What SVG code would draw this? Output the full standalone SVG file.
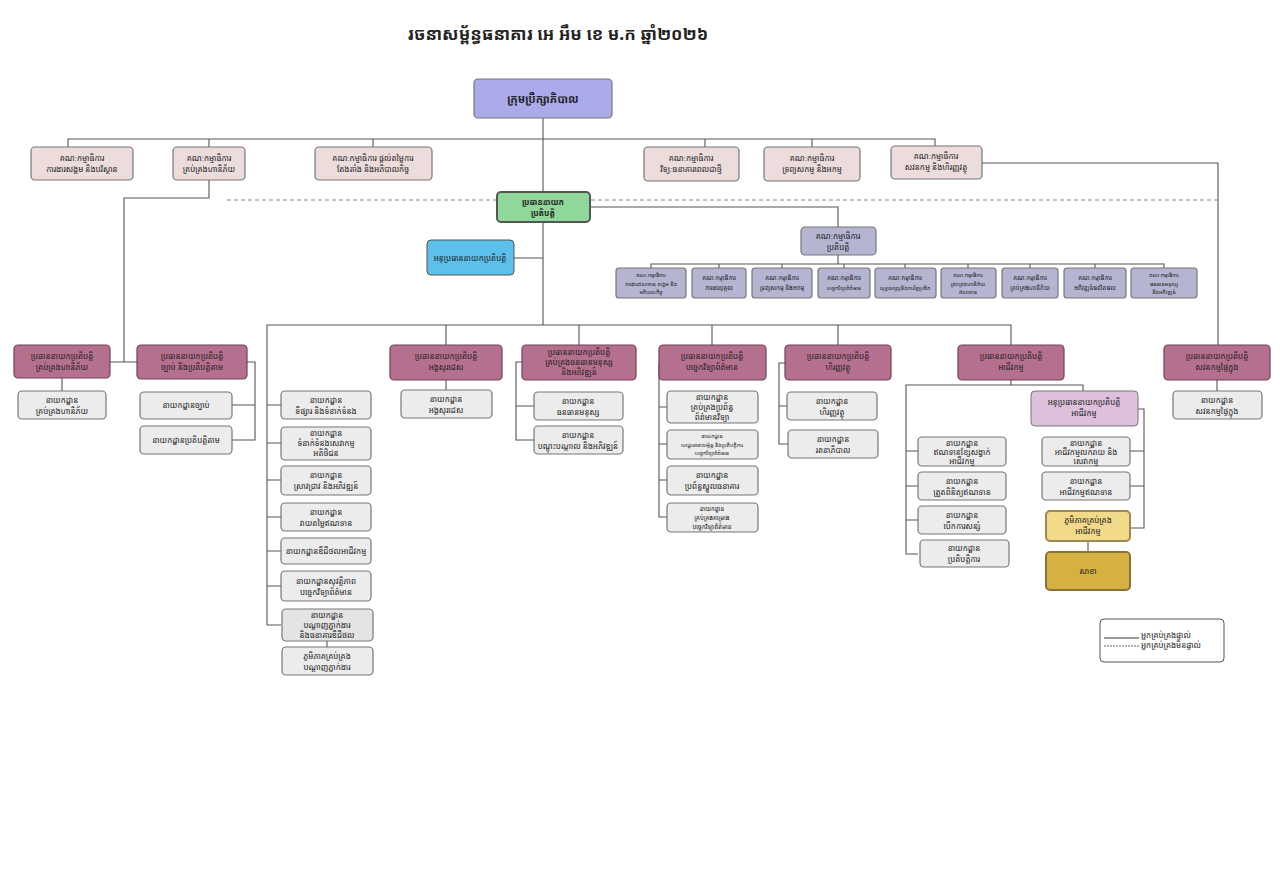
<svg xmlns="http://www.w3.org/2000/svg" width="1280" height="896" viewBox="0 0 1280 896">
<style>
text{font-family:"Noto Sans Khmer","Khmer OS","Noto Sans",sans-serif;font-size:8px;fill:#222;text-anchor:middle}
.t{font-size:17px;font-weight:bold}
.b{font-size:11px;font-weight:bold}
.s{font-size:6px}
.xs{font-size:5.3px}
.box{stroke:#777;stroke-width:1.2}
.com{fill:#ecdcdc}
.sc{fill:#b5b5d2}
.dep{fill:#ececec}
.chief{fill:#b6708f;stroke:#6e4258;stroke-width:1.2}
.c{fill:none;stroke:#555;stroke-width:1.1}
.d{fill:none;stroke:#888;stroke-width:1.1;stroke-dasharray:4 3}
</style>
<rect width="1280" height="896" fill="#fff"/>
<text class="t" x="558" y="40">រចនាសម្ព័ន្ធធនាគារ អេ អឹម ខេ ម.ក ឆ្នាំ២០២៦</text>
<g id="connectors">
<path class="c" d="M543 118V325M68 147V139H935V147M209 139V147M373 139V147M705 139V147M812 139V147"/>
<path class="c" d="M982 163H1218V345"/>
<path class="c" d="M209 180V198H124V362M110 362H137"/>
<path class="d" d="M227 200H1218"/>
<path class="c" d="M514 258H543M590 207H838V227M838 255V264M651 268V264H1164V268M719 264V268M782 264V268M844 264V268M905 264V268M968 264V268M1030 264V268M1095 264V268"/>
<path class="c" d="M267 625V325H1011V345M446 325V345M579 325V345M712 325V345M838 325V345"/>
<path class="c" d="M267 405H281M267 443H281M267 480H281M267 517H281M267 551H281M267 586H281M267 625H281M327 641V647"/>
<path class="c" d="M62 378V391M247 362H255V440H232M255 405H232M446 380V390"/>
<path class="c" d="M522 362H516V440H534M516 406H534M659 363V517H667M659 407H667M659 444H667M659 480H667M785 363H779V444H788M779 406H787"/>
<path class="c" d="M1011 380V385H906V554H918M906 451H918M906 486H918M906 520H918M1011 385H1083V391M1138 409H1144V528H1130M1144 451H1130M1144 486H1130M1088 541V552M1217 380V391"/>
</g>
<g id="board"><rect class="box" x="474" y="79" width="138" height="39" rx="4" fill="#abaaea" stroke="#555" stroke-width="2.5"/><text class="b" x="543" y="103">ក្រុមប្រឹក្សាភិបាល</text></g>
<g id="com1"><rect class="box com" x="31" y="147" width="102" height="33" rx="4"/><text x="82" y="161">គណៈកម្មាធិការ</text><text x="82" y="172">ការងារសង្គម និងបរិស្ថាន</text></g>
<g id="com2"><rect class="box com" x="173" y="147" width="72" height="33" rx="4"/><text x="209" y="161">គណៈកម្មាធិការ</text><text x="209" y="172">គ្រប់គ្រងហានិភ័យ</text></g>
<g id="com3"><rect class="box com" x="315" y="147" width="117" height="33" rx="4"/><text x="373" y="161">គណៈកម្មាធិការ ផ្តល់តម្លៃការ</text><text x="373" y="172">តែងតាំង និងអភិបាលកិច្ច</text></g>
<g id="com4"><rect class="box com" x="644" y="147" width="95" height="34" rx="4"/><text x="691" y="161">គណៈកម្មាធិការ</text><text x="691" y="172">វិទ្យៈធនាគារពេលជាថ្មី</text></g>
<g id="com5"><rect class="box com" x="764" y="147" width="96" height="34" rx="4"/><text x="812" y="161">គណៈកម្មាធិការ</text><text x="812" y="172">ទ្រព្យសកម្ម និងអកម្ម</text></g>
<g id="com6"><rect class="box com" x="891" y="146" width="91" height="33" rx="4"/><text x="936" y="159">គណៈកម្មាធិការ</text><text x="936" y="170">សវនកម្ម និងហិរញ្ញវត្ថុ</text></g>
<g id="ceo"><rect x="497" y="192" width="93" height="30" rx="4" fill="#8fd89a" stroke="#555" stroke-width="2"/><text x="543" y="205" font-weight="bold" font-size="9">ប្រធាននាយក</text><text x="543" y="216" font-weight="bold" font-size="9">ប្រតិបត្តិ</text></g>
<g id="dceo"><rect x="427" y="240" width="87" height="35" rx="4" fill="#5bc0eb" stroke="#555"/><text x="470" y="261" font-size="8.5">អនុប្រធាននាយកប្រតិបត្តិ</text></g>
<g id="exco"><rect class="box sc" x="801" y="227" width="75" height="28" rx="4"/><text x="838" y="239">គណៈកម្មាធិការ</text><text x="838" y="250">ប្រតិបត្តិ</text></g>
<g id="sc1"><rect class="box sc" x="616" y="268" width="70" height="30" rx="3"/><text class="xs" x="651" y="277">គណៈកម្មាធិការ</text><text class="xs" x="651" y="285.5">ការងារឥណទាន សង្គម និង</text><text class="xs" x="651" y="294">អភិបាលកិច្ច</text></g>
<g id="sc2"><rect class="box sc" x="692" y="268" width="54" height="30" rx="3"/><text class="s" x="719" y="280">គណៈកម្មាធិការ</text><text class="s" x="719" y="290">ការងារបុគ្គល</text></g>
<g id="sc3"><rect class="box sc" x="752" y="268" width="60" height="30" rx="3"/><text class="s" x="782" y="280">គណៈកម្មាធិការ</text><text class="s" x="782" y="290">ទ្រព្យសកម្ម និងអកម្ម</text></g>
<g id="sc4"><rect class="box sc" x="818" y="268" width="52" height="30" rx="3"/><text class="s" x="844" y="280">គណៈកម្មាធិការ</text><text class="xs" x="844" y="290">បច្ចេកវិទ្យាព័ត៌មាន</text></g>
<g id="sc5"><rect class="box sc" x="875" y="268" width="61" height="30" rx="3"/><text class="s" x="905" y="280">គណៈកម្មាធិការ</text><text class="xs" x="905" y="290">យុទ្ធសាស្ត្រនិងការច្នៃប្រឌិត</text></g>
<g id="sc6"><rect class="box sc" x="941" y="268" width="55" height="30" rx="3"/><text class="xs" x="968" y="277">គណៈកម្មាធិការ</text><text class="xs" x="968" y="285.5">គ្រប់គ្រងហានិភ័យ</text><text class="xs" x="968" y="294">ឥណទាន</text></g>
<g id="sc7"><rect class="box sc" x="1002" y="268" width="56" height="30" rx="3"/><text class="s" x="1030" y="280">គណៈកម្មាធិការ</text><text class="s" x="1030" y="290">គ្រប់គ្រងហានិភ័យ</text></g>
<g id="sc8"><rect class="box sc" x="1064" y="268" width="62" height="30" rx="3"/><text class="s" x="1095" y="280">គណៈកម្មាធិការ</text><text class="s" x="1095" y="290">អភិវឌ្ឍន៍ផលិតផល</text></g>
<g id="sc9"><rect class="box sc" x="1131" y="268" width="66" height="30" rx="3"/><text class="xs" x="1164" y="277">គណៈកម្មាធិការ</text><text class="xs" x="1164" y="285.5">ធនធានមនុស្ស</text><text class="xs" x="1164" y="294">និងអភិវឌ្ឍន៍</text></g>
<g id="cro"><rect class="chief" x="14" y="345" width="96" height="33" rx="4"/><text x="62" y="359">ប្រធាននាយកប្រតិបត្តិ</text><text x="62" y="370">គ្រប់គ្រងហានិភ័យ</text></g>
<g id="legal"><rect class="chief" x="137" y="345" width="110" height="34" rx="4"/><text x="192" y="359">ប្រធាននាយកប្រតិបត្តិ</text><text x="192" y="370">ច្បាប់ និងប្រតិបត្តិតាម</text></g>
<g id="admin"><rect class="chief" x="390" y="345" width="112" height="35" rx="4"/><text x="446" y="359">ប្រធាននាយកប្រតិបត្តិ</text><text x="446" y="370">អង្គសុរដេស</text></g>
<g id="hr"><rect class="chief" x="522" y="345" width="114" height="35" rx="4"/><text x="579" y="355">ប្រធាននាយកប្រតិបត្តិ</text><text x="579" y="365">គ្រប់គ្រងធនធានមនុស្ស</text><text x="579" y="375">និងអភិវឌ្ឍន៍</text></g>
<g id="it"><rect class="chief" x="659" y="345" width="107" height="35" rx="4"/><text x="712" y="359">ប្រធាននាយកប្រតិបត្តិ</text><text x="712" y="370">បច្ចេកវិទ្យាព័ត៌មាន</text></g>
<g id="fin"><rect class="chief" x="785" y="345" width="106" height="35" rx="4"/><text x="838" y="359">ប្រធាននាយកប្រតិបត្តិ</text><text x="838" y="370">ហិរញ្ញវត្ថុ</text></g>
<g id="biz"><rect class="chief" x="958" y="345" width="106" height="35" rx="4"/><text x="1011" y="359">ប្រធាននាយកប្រតិបត្តិ</text><text x="1011" y="370">អាជីវកម្ម</text></g>
<g id="audit"><rect class="chief" x="1164" y="345" width="106" height="35" rx="4"/><text x="1217" y="359">ប្រធាននាយកប្រតិបត្តិ</text><text x="1217" y="370">សវនកម្មផ្ទៃក្នុង</text></g>
<g id="d-risk"><rect class="box dep" x="18" y="391" width="88" height="28" rx="4"/><text x="62" y="403">នាយកដ្ឋាន</text><text x="62" y="414">គ្រប់គ្រងហានិភ័យ</text></g>
<g id="d-legal"><rect class="box dep" x="140" y="392" width="92" height="27" rx="4"/><text x="186" y="408">នាយកដ្ឋានច្បាប់</text></g>
<g id="d-comp"><rect class="box dep" x="140" y="426" width="92" height="28" rx="4"/><text x="186" y="443">នាយកដ្ឋានប្រតិបត្តិតាម</text></g>
<g id="d-mkt"><rect class="box dep" x="281" y="391" width="90" height="28" rx="4"/><text x="326" y="403">នាយកដ្ឋាន</text><text x="326" y="414">ទីផ្សារ និងទំនាក់ទំនង</text></g>
<g id="d-cx"><rect class="box dep" x="281" y="427" width="90" height="33" rx="4"/><text x="326" y="436">នាយកដ្ឋាន</text><text x="326" y="446">ទំនាក់ទំនងសេវាកម្ម</text><text x="326" y="456">អតិថិជន</text></g>
<g id="d-rd"><rect class="box dep" x="281" y="466" width="90" height="29" rx="4"/><text x="326" y="478">នាយកដ្ឋាន</text><text x="326" y="489">ស្រាវជ្រាវ និងអភិវឌ្ឍន៍</text></g>
<g id="d-cv"><rect class="box dep" x="281" y="503" width="90" height="28" rx="4"/><text x="326" y="515">នាយកដ្ឋាន</text><text x="326" y="526">វាយតម្លៃឥណទាន</text></g>
<g id="d-db"><rect class="box dep" x="281" y="538" width="90" height="26" rx="4"/><text x="326" y="554">នាយកដ្ឋានឌីជីថលអាជីវកម្ម</text></g>
<g id="d-sec"><rect class="box dep" x="281" y="571" width="90" height="30" rx="4"/><text x="326" y="584">នាយកដ្ឋានសុវត្ថិភាព</text><text x="326" y="595">បច្ចេកវិទ្យាព័ត៌មាន</text></g>
<g id="d-agent"><rect class="box" fill="#e4e4e4" x="282" y="609" width="91" height="32" rx="4"/><text x="327" y="618">នាយកដ្ឋាន</text><text x="327" y="628">បណ្តាញភ្នាក់ងារ</text><text x="327" y="638">និងធនាគារឌីជីថល</text></g>
<g id="z-agent"><rect class="box dep" x="282" y="647" width="91" height="28" rx="4"/><text x="327" y="659">ភូមិភាគគ្រប់គ្រង</text><text x="327" y="670">បណ្តាញភ្នាក់ងារ</text></g>
<g id="d-admin"><rect class="box dep" x="401" y="390" width="91" height="28" rx="4"/><text x="446" y="402">នាយកដ្ឋាន</text><text x="446" y="413">អង្គសុរដេស</text></g>
<g id="d-hr"><rect class="box dep" x="534" y="392" width="89" height="28" rx="4"/><text x="578" y="404">នាយកដ្ឋាន</text><text x="578" y="415">ធនធានមនុស្ស</text></g>
<g id="d-train"><rect class="box dep" x="534" y="426" width="89" height="28" rx="4"/><text x="578" y="438">នាយកដ្ឋាន</text><text x="578" y="449">បណ្តុះបណ្តាល និងអភិវឌ្ឍន៍</text></g>
<g id="d-is"><rect class="box dep" x="667" y="391" width="91" height="32" rx="4"/><text x="712" y="400">នាយកដ្ឋាន</text><text x="712" y="410">គ្រប់គ្រងប្រព័ន្ធ</text><text x="712" y="420">ព័ត៌មានវិទ្យា</text></g>
<g id="d-infra"><rect class="box dep" x="667" y="430" width="91" height="29" rx="4"/><text class="xs" x="712" y="438">នាយកដ្ឋាន</text><text class="xs" x="712" y="446.5">ហេដ្ឋារចនាសម្ព័ន្ធ និងប្រតិបត្តិការ</text><text class="xs" x="712" y="455">បច្ចេកវិទ្យាព័ត៌មាន</text></g>
<g id="d-core"><rect class="box dep" x="667" y="466" width="91" height="29" rx="4"/><text x="712" y="478">នាយកដ្ឋាន</text><text x="712" y="489">ប្រព័ន្ធស្នូលធនាគារ</text></g>
<g id="d-pm"><rect class="box dep" x="667" y="503" width="91" height="29" rx="4"/><text class="s" x="712" y="511">នាយកដ្ឋាន</text><text class="s" x="712" y="520">គ្រប់គ្រងគម្រោង</text><text class="s" x="712" y="529">បច្ចេកវិទ្យាព័ត៌មាន</text></g>
<g id="d-fin"><rect class="box dep" x="787" y="392" width="90" height="28" rx="4"/><text x="832" y="404">នាយកដ្ឋាន</text><text x="832" y="415">ហិរញ្ញវត្ថុ</text></g>
<g id="d-tre"><rect class="box dep" x="788" y="430" width="90" height="28" rx="4"/><text x="833" y="442">នាយកដ្ឋាន</text><text x="833" y="453">រតនាភិបាល</text></g>
<g id="d-chain"><rect class="box dep" x="918" y="437" width="88" height="29" rx="4"/><text x="962" y="446">នាយកដ្ឋាន</text><text x="962" y="455">ឥណទានខ្សែសង្វាក់</text><text x="962" y="464">អាជីវកម្ម</text></g>
<g id="d-cm"><rect class="box dep" x="918" y="472" width="88" height="28" rx="4"/><text x="962" y="484">នាយកដ្ឋាន</text><text x="962" y="495">ត្រួតពិនិត្យឥណទាន</text></g>
<g id="d-sav"><rect class="box dep" x="918" y="506" width="88" height="28" rx="4"/><text x="962" y="518">នាយកដ្ឋាន</text><text x="962" y="529">បើកការសន្សំ</text></g>
<g id="d-ops"><rect class="box dep" x="920" y="540" width="89" height="27" rx="4"/><text x="964" y="551">នាយកដ្ឋាន</text><text x="964" y="562">ប្រតិបត្តិការ</text></g>
<g id="dbiz"><rect x="1031" y="391" width="107" height="35" rx="4" fill="#dcc0dc" stroke="#777"/><text x="1084" y="405">អនុប្រធាននាយកប្រតិបត្តិ</text><text x="1084" y="416">អាជីវកម្ម</text></g>
<g id="d-retail"><rect class="box dep" x="1042" y="437" width="88" height="29" rx="4"/><text x="1086" y="446">នាយកដ្ឋាន</text><text x="1086" y="455">អាជីវកម្មលក់រាយ និង</text><text x="1086" y="464">សេវាកម្ម</text></g>
<g id="d-credit"><rect class="box dep" x="1042" y="472" width="88" height="28" rx="4"/><text x="1086" y="484">នាយកដ្ឋាន</text><text x="1086" y="495">អាជីវកម្មឥណទាន</text></g>
<g id="z-biz"><rect x="1046" y="511" width="84" height="30" rx="4" fill="#f3d98a" stroke="#9c8a50" stroke-width="2"/><text x="1088" y="523">ភូមិភាគគ្រប់គ្រង</text><text x="1088" y="534">អាជីវកម្ម</text></g>
<g id="branch"><rect x="1046" y="552" width="84" height="38" rx="4" fill="#d6b040" stroke="#8a7435" stroke-width="2"/><text x="1088" y="574">សាខា</text></g>
<g id="d-audit"><rect class="box dep" x="1173" y="391" width="89" height="28" rx="4"/><text x="1217" y="403">នាយកដ្ឋាន</text><text x="1217" y="414">សវនកម្មផ្ទៃក្នុង</text></g>
<g id="legend"><rect x="1100" y="619" width="124" height="43" rx="4" fill="#fff" stroke="#555"/><path d="M1104 638H1139" stroke="#333" stroke-width="1"/><path d="M1104 646H1139" stroke="#666" stroke-width="1" stroke-dasharray="2 1"/><text x="1141" y="638" style="text-anchor:start">អ្នកគ្រប់គ្រងផ្ទាល់</text><text x="1141" y="648" style="text-anchor:start">អ្នកគ្រប់គ្រងមិនផ្ទាល់</text></g>
</svg>
